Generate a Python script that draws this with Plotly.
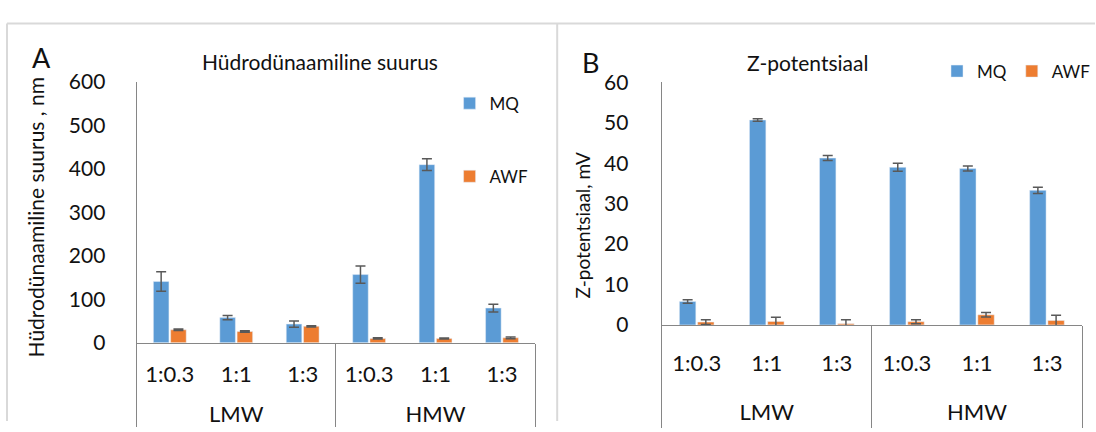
import plotly.graph_objects as go

groups = ["LMW", "LMW", "LMW", "HMW", "HMW", "HMW"]
ratios = ["1:0.3", "1:1", "1:3", "1:0.3", "1:1", "1:3"]

# Panel A: hydrodynamic size, nm
a_mq = [141, 58, 43, 157, 410, 80]
a_mq_err = [22.5, 5, 7, 20, 13.5, 9]
a_awf = [30, 26, 38, 10, 10, 11.5]
a_awf_err = [1.5, 1.5, 1.5, 1.5, 1, 2]

# Panel B: zeta potential, mV
b_mq = [5.8, 50.7, 41.3, 39.0, 38.7, 33.3]
b_mq_err = [0.45, 0.3, 0.6, 1.0, 0.6, 0.8]
b_awf = [0.7, 0.85, 0.3, 0.8, 2.5, 1.1]
b_awf_err = [0.6, 1.05, 1.0, 0.5, 0.55, 1.3]

BLUE = "#5B9BD5"
ORANGE = "#ED7D31"
ERR = "#595959"
AX = "#868686"
FONT = "Lato"
TXT = "#111111"

W, H = 1096, 432
def px(x):
    return x / W
def py(y):
    return (H - y) / H

n = len(ratios)
idx = list(range(n))
group_names = []
group_pos = []
for g in groups:
    if g not in group_names:
        group_names.append(g)
        members = [i for i, gg in enumerate(groups) if gg == g]
        group_pos.append(sum(members) / len(members))
bounds = [-0.5] + [i + 0.5 for i in range(n - 1) if groups[i] != groups[i + 1]] + [n - 0.5]
xr = [-0.5, n - 0.5]

fig = go.Figure()
x = [groups, ratios]

def err(vals):
    return dict(type="data", array=vals, visible=True, color=ERR, thickness=1.5, width=5)

fig.add_trace(go.Bar(x=x, y=a_mq, name="MQ", marker_color=BLUE, error_y=err(a_mq_err),
                     xaxis="x", yaxis="y", legend="legend", legendgroup="a1"))
fig.add_trace(go.Bar(x=x, y=a_awf, name="AWF", marker_color=ORANGE, error_y=err(a_awf_err),
                     xaxis="x", yaxis="y", legend="legend", legendgroup="a2"))
fig.add_trace(go.Bar(x=x, y=b_mq, name="MQ", marker_color=BLUE, error_y=err(b_mq_err),
                     xaxis="x2", yaxis="y2", legend="legend2"))
fig.add_trace(go.Bar(x=x, y=b_awf, name="AWF", marker_color=ORANGE, error_y=err(b_awf_err),
                     xaxis="x2", yaxis="y2", legend="legend2"))

# invisible carriers so that the label / divider axes get drawn
for xa, ya, vals in [("x3", "y", a_mq), ("x4", "y", a_mq), ("x5", "y", a_mq),
                     ("x6", "y2", b_mq), ("x7", "y2", b_mq), ("x8", "y2", b_mq)]:
    fig.add_trace(go.Scatter(x=idx, y=vals, xaxis=xa, yaxis=ya, mode="markers",
                             marker=dict(size=1, opacity=0), showlegend=False, hoverinfo="skip"))

xbase = dict(type="multicategory", showline=True, linecolor=AX, linewidth=1, range=xr,
             ticks="", showticklabels=False, showgrid=False, zeroline=False)
ycommon = dict(showline=True, linecolor=AX, linewidth=1, ticks="", showgrid=False,
               zeroline=False, tickfont=dict(family=FONT, size=21, color=TXT))
lab = dict(type="linear", range=xr, showline=False, ticks="", showgrid=False, zeroline=False,
           tickmode="array", tickfont=dict(family=FONT, size=22, color=TXT))
div = dict(type="linear", range=xr, showline=False, ticks="outside", tickcolor=AX, tickwidth=1,
           showticklabels=False, showgrid=False, zeroline=False, tickmode="array", tickvals=bounds)

fig.update_layout(
    width=W, height=H, margin=dict(l=0, r=0, t=0, b=0),
    paper_bgcolor="white", plot_bgcolor="white",
    barmode="group", bargap=0.48, bargroupgap=0.1,
    font=dict(family=FONT, color=TXT),
    xaxis=dict(domain=[px(136.7), px(535.7)], anchor="y", **xbase),
    yaxis=dict(domain=[py(349), py(72.3)], anchor="x", range=[0, 600], dtick=100,
               ticklabelstandoff=26, **ycommon),
    xaxis2=dict(domain=[px(662.3), px(1083)], anchor="y2", **xbase),
    yaxis2=dict(domain=[py(330), py(72.7)], anchor="x2", range=[0, 60], dtick=10,
                ticklabelstandoff=28, **ycommon),
    # category labels, group labels and group dividers for panel A
    xaxis3=dict(overlaying="x", anchor="free", position=py(366), tickvals=idx, ticktext=ratios, **lab),
    xaxis4=dict(overlaying="x", anchor="free", position=py(409), tickvals=group_pos, ticktext=group_names, **lab),
    xaxis5=dict(overlaying="x", anchor="y", ticklen=H - 349, **div),
    # same for panel B
    xaxis6=dict(overlaying="x2", anchor="free", position=py(355), tickvals=idx, ticktext=ratios, **lab),
    xaxis7=dict(overlaying="x2", anchor="free", position=py(407), tickvals=group_pos, ticktext=group_names, **lab),
    xaxis8=dict(overlaying="x2", anchor="y2", ticklen=H - 330, **div),
    legend=dict(x=px(450), y=py(76), xanchor="left", yanchor="top", orientation="v",
                tracegroupgap=48, font=dict(family=FONT, size=17, color=TXT),
                bgcolor="rgba(0,0,0,0)"),
    legend2=dict(x=px(938), y=py(42), xanchor="left", yanchor="top", orientation="h",
                 font=dict(family=FONT, size=17, color=TXT), bgcolor="rgba(0,0,0,0)"),
    showlegend=True,
)

# Panel frames
fig.add_shape(type="line", xref="paper", yref="paper", x0=px(7), x1=1, y0=py(10), y1=py(10),
              line=dict(color="#d9d9d9", width=2))
fig.add_shape(type="line", xref="paper", yref="paper", x0=px(7), x1=px(7), y0=0, y1=py(10),
              line=dict(color="#d9d9d9", width=2))
fig.add_shape(type="line", xref="paper", yref="paper", x0=px(557.7), x1=px(557.7), y0=0, y1=py(10),
              line=dict(color="#d9d9d9", width=2))

ann = [
    dict(text="A", x=px(42), y=py(46), size=27),
    dict(text="B", x=px(591), y=py(52), size=27),
    dict(text="Hüdrodünaamiline suurus", x=px(320), y=py(50), size=21),
    dict(text="Z-potentsiaal", x=px(808), y=py(52), size=21),
]
for a in ann:
    fig.add_annotation(text=a["text"], x=a["x"], y=a["y"], xref="paper", yref="paper",
                       showarrow=False, xanchor="center", yanchor="middle",
                       font=dict(family=FONT, size=a["size"], color=TXT))
fig.add_annotation(text="Hüdrodünaamiline suurus , nm", x=px(36), y=py(216), xref="paper", yref="paper",
                   showarrow=False, textangle=-90, xanchor="center", yanchor="middle",
                   font=dict(family=FONT, size=21, color=TXT))
fig.add_annotation(text="Z-potentsiaal, mV", x=px(583), y=py(224), xref="paper", yref="paper",
                   showarrow=False, textangle=-90, xanchor="center", yanchor="middle",
                   font=dict(family=FONT, size=19, color=TXT))

fig.write_html("out.html")
